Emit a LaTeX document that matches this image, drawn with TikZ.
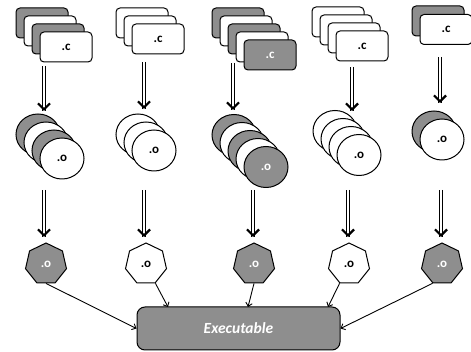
\documentclass[tikz,border=0pt]{standalone}
\usepackage{fontspec}
\newfontfamily\carl{Carlito}
\usetikzlibrary{shapes.geometric,arrows.meta,decorations.markings}
\definecolor{grayc}{HTML}{8E8E8E}
\begin{document}
\begin{tikzpicture}[x=1pt,y=-1pt,
  lbl/.style={font=\carl\bfseries\fontsize{13}{14}\selectfont},
  card/.style={draw, rounded corners=4pt, line width=1pt, minimum width=52pt, minimum height=30pt, inner sep=0pt, lbl},
  gcard/.style={card, fill=grayc, text=white},
  wcard/.style={card, fill=white, text=black},
  disk/.style={draw, ellipse, line width=1pt, minimum width=44pt, minimum height=41pt, inner sep=0pt, lbl},
  gdisk/.style={disk, fill=grayc, text=white},
  wdisk/.style={disk, fill=white, text=black},
  hept/.style={draw, regular polygon, regular polygon sides=7, minimum size=42pt, inner sep=0pt, line width=1pt, lbl},
  ghept/.style={hept, fill=grayc, text=white},
  whept/.style={hept, fill=white, text=black},
  exe/.style={draw, line width=1pt, rounded corners=8pt, fill=grayc, minimum width=203pt, minimum height=43pt, text=white, font=\carl\bfseries\itshape\fontsize{15.5}{17}\selectfont},
  dbl/.style={double, double distance=2pt, line width=0.9pt,
    postaction={decorate, decoration={markings, mark=at position 1 with {\arrow[line width=2.2pt]{Straight Barb[length=6pt,width=12pt]}}}}},
  link/.style={line width=0.9pt, -{Straight Barb[length=3.5pt,width=6.5pt]}}
]
\useasboundingbox (0,0) rectangle (471,352);
% ---- .c stacks
\node[gcard] (c1a) at (42,23) {};
\node[wcard] (c1b) at (50,31) {};
\node[gcard] (c1c) at (58,39) {};
\node[wcard] (c1d) at (66,47) {.c};
\node[wcard] (c2a) at (142,23) {};
\node[wcard] (c2b) at (150,31) {};
\node[wcard] (c2c) at (158,39) {.c};
\node[gcard] (c3a) at (238,23) {};
\node[wcard] (c3b) at (246,31) {};
\node[gcard] (c3c) at (254,39) {};
\node[wcard] (c3d) at (262,47) {};
\node[gcard] (c3e) at (270,55) {.c};
\node[wcard] (c4a) at (338,22) {};
\node[wcard] (c4b) at (346,30) {};
\node[wcard] (c4c) at (354,38) {};
\node[wcard] (c4d) at (362,46) {.c};
\node[gcard] (c5a) at (438,21) {};
\node[wcard] (c5b) at (446,29.5) {.c};
% ---- .o stacks
\node[gdisk] (o1a) at (38,134.5) {};
\node[wdisk] (o1b) at (46,142.5) {};
\node[gdisk] (o1c) at (54,150.5) {};
\node[wdisk] (o1d) at (62,158.5) {.o};
\node[wdisk] (o2a) at (138,134.5) {};
\node[wdisk] (o2b) at (146,142.5) {};
\node[wdisk] (o2c) at (154,150.5) {.o};
\node[gdisk] (o3a) at (234,135) {};
\node[wdisk] (o3b) at (242,143) {};
\node[gdisk] (o3c) at (250,151) {};
\node[wdisk] (o3d) at (258,159) {};
\node[gdisk] (o3e) at (266,167) {.o};
\node[wdisk] (o4a) at (335,131) {};
\node[wdisk] (o4b) at (343,139) {};
\node[wdisk] (o4c) at (351,147) {};
\node[wdisk] (o4d) at (359,155) {.o};
\node[gdisk] (o5a) at (434,131.5) {};
\node[wdisk] (o5b) at (442,139.5) {.o};
% ---- heptagons
\node[ghept] (h1) at (46,264) {.o};
\node[whept] (h2) at (146,264) {.o};
\node[ghept] (h3) at (254,264) {.o};
\node[whept] (h4) at (349,264) {.o};
\node[ghept] (h5) at (442,264) {.o};
% ---- executable
\node[exe] (exe) at (238.5,328.5) {Executable};
% ---- double arrows
\coordinate (t1s) at (44,66);  \coordinate (t1e) at (44,111);
\coordinate (t2s) at (144,62); \coordinate (t2e) at (144,109);
\coordinate (t3s) at (233,63); \coordinate (t3e) at (233,110);
\coordinate (t4s) at (352,67); \coordinate (t4e) at (352,111);
\coordinate (t5s) at (440,57); \coordinate (t5e) at (440,103);
\coordinate (m1s) at (44,190);  \coordinate (m1e) at (44,237);
\coordinate (m2s) at (144,190); \coordinate (m2e) at (144,237);
\coordinate (m3s) at (253,190); \coordinate (m3e) at (253,237);
\coordinate (m4s) at (348,190); \coordinate (m4e) at (348,237);
\coordinate (m5s) at (441,190); \coordinate (m5e) at (441,237);
\foreach \i in {1,...,5} {
  \draw[dbl] (t\i s) -- (t\i e);
  \draw[dbl] (m\i s) -- (m\i e);
}
% ---- links to executable
\coordinate (b2) at (168,307);
\coordinate (b3) at (248,307);
\coordinate (b4) at (328,307);
\draw[link] (h1.south) -- (exe.west);
\draw[link] (h2.-64) -- (b2);
\draw[link] (h3.south) -- (b3);
\draw[link] (h4.-116) -- (b4);
\draw[link] (h5.-116) -- (exe.east);
\end{tikzpicture}
\end{document}
